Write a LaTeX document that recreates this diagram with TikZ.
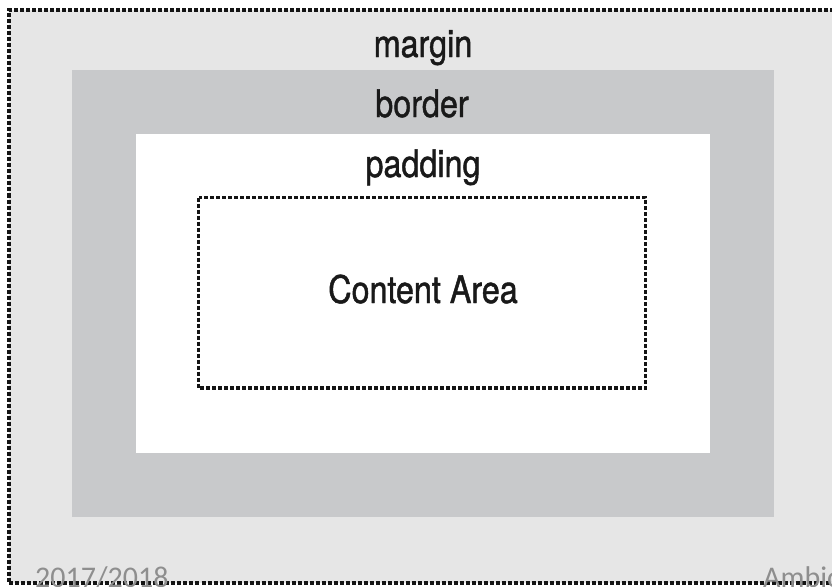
\documentclass[tikz,border=0pt]{standalone}
\usepackage{fontspec}
\newfontfamily\cond[FakeStretch=0.85,FakeBold=1.2]{TeX Gyre Heros}
\newfontfamily\wm{Carlito}
\definecolor{margincol}{HTML}{E6E6E6}
\definecolor{bordercol}{HTML}{C8C9CB}
\definecolor{wmcol}{HTML}{8E8E8E}
\tikzset{
  lbl/.style={font=\cond\fontsize{38}{40}\selectfont, text=black!90, anchor=base, inner sep=0pt},
  dotline/.style={draw=black!92, dash pattern=on 4pt off 2pt},
  wmtext/.style={font=\wm\fontsize{30}{32}\selectfont, text=wmcol, anchor=base west, inner sep=0pt}
}
\begin{document}
\begin{tikzpicture}[x=1pt,y=-1pt]
\useasboundingbox (0,0) rectangle (832,586);
\clip (0,0) rectangle (832,586);
\fill[white] (0,0) rectangle (832,586);
% margin
\fill[margincol] (9,10.5) rectangle (840,583);
\draw[dotline, line width=4pt] (840,10.5) -- (9,10.5) -- (9,583) -- (840,583);
% border
\fill[bordercol] (72,70) rectangle (774,517);
% padding
\fill[white] (136,134) rectangle (710,453);
% content
\draw[dotline, line width=3.5pt] (198.5,197.5) rectangle (645.5,388);
\node[lbl] (margin) at (423,57) {margin};
\node[lbl] (border) at (422,117) {border};
\node[lbl] (padding) at (423,177) {padding};
\node[lbl] (content) at (423,303) {Content Area};
\node[wmtext] (year) at (35,587) {2017/2018};
\node[wmtext] (amb) at (763,587) {Ambic};
\end{tikzpicture}
\end{document}
